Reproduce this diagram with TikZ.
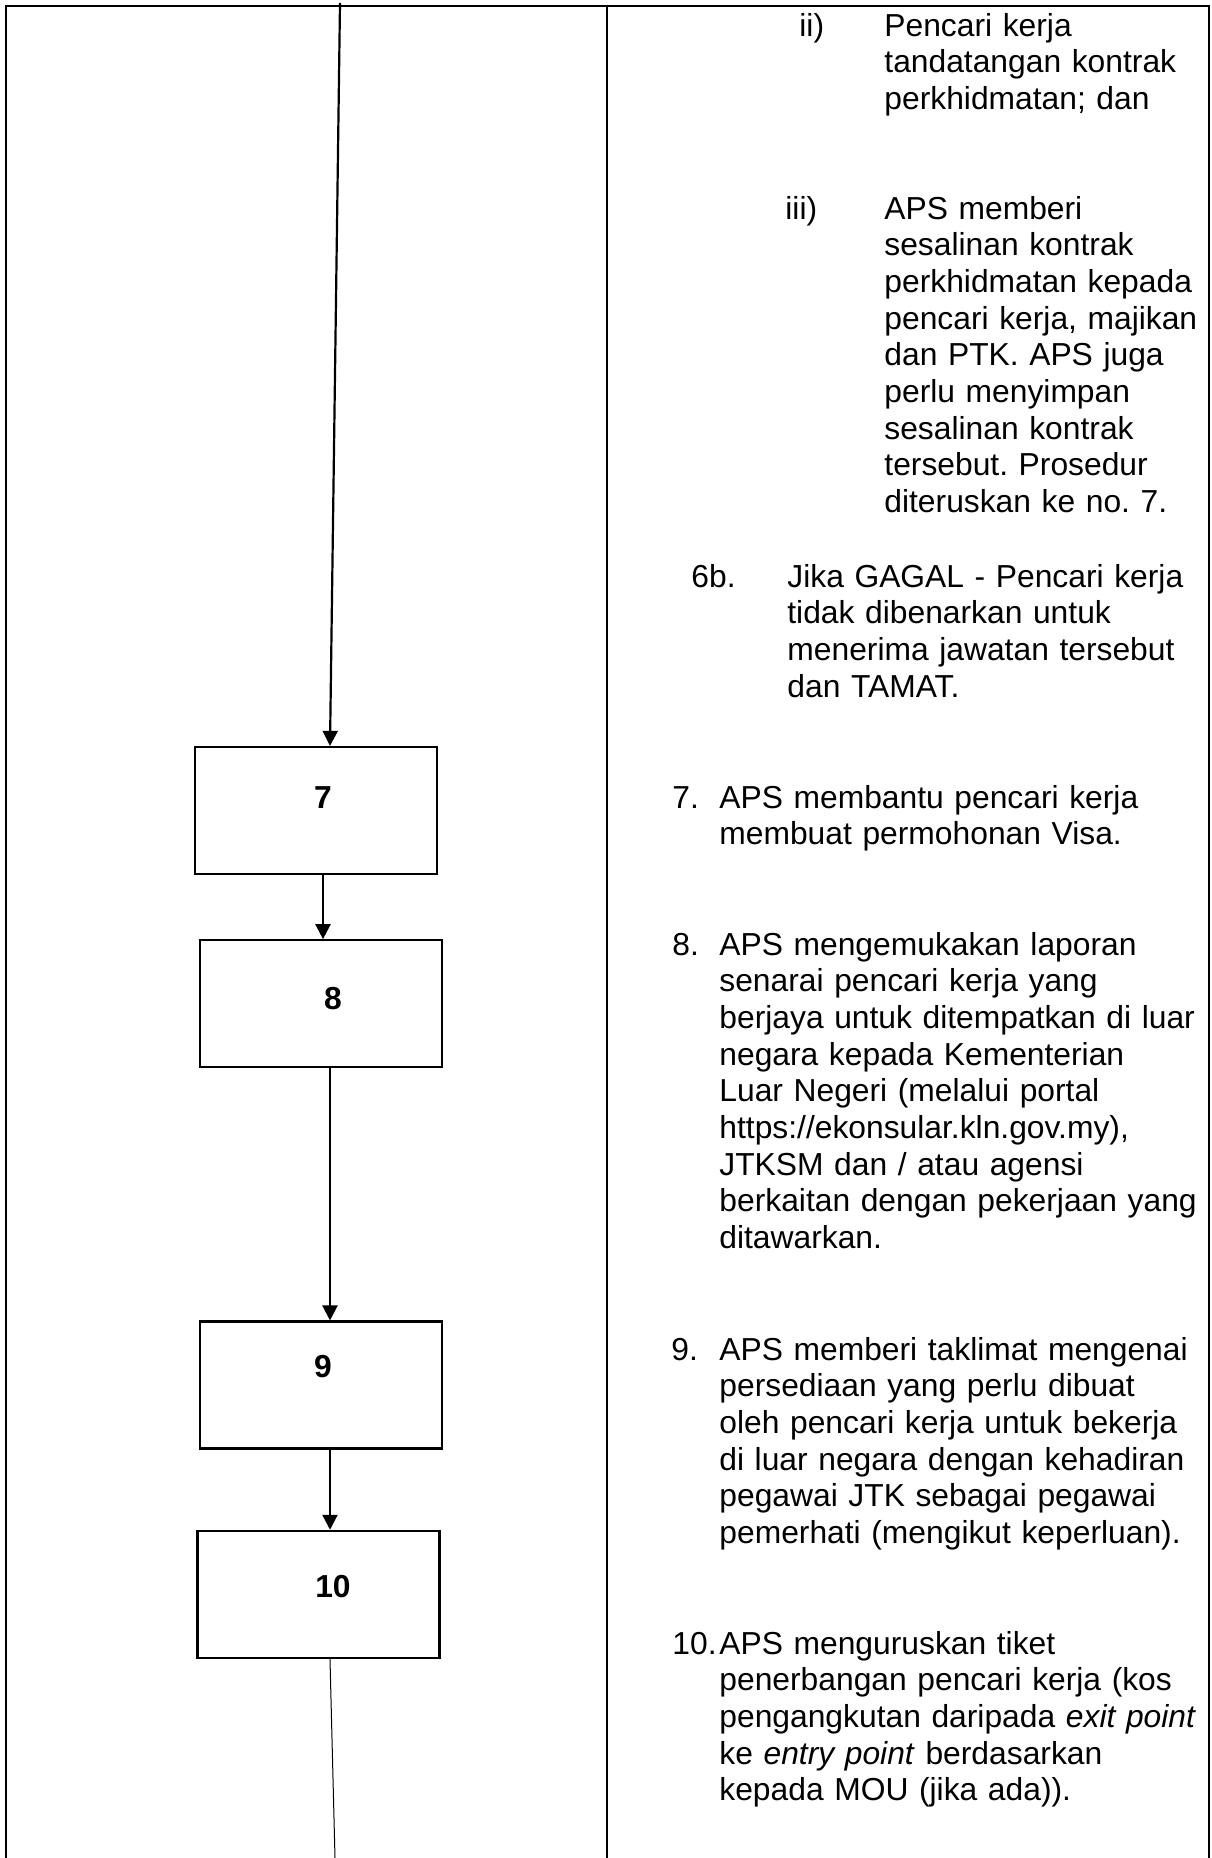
\documentclass[tikz,border=0pt]{standalone}
\usepackage{fontspec}
\setmainfont{Liberation Sans}
\usetikzlibrary{positioning,arrows.meta,calc}
\frenchspacing

\begin{document}
\begin{tikzpicture}[x=0.5pt, y=-0.5pt, node distance=32pt,
  every node/.style={font=\fontsize{15.9pt}{18.35pt}\selectfont},
  frame/.style={line width=1.4pt},
  stepbox/.style={rectangle, draw, line width=1.15pt, minimum width=121pt, minimum height=63.5pt, inner sep=0pt},
  stepno/.style={anchor=base, inner sep=0pt, font=\fontsize{15.9pt}{18.35pt}\selectfont\bfseries},
  flow/.style={-{Triangle[length=7.5pt,width=7.5pt]}, line width=1.1pt},
  itemno/.style={anchor=base west, inner sep=0pt},
  itemtxt/.style={anchor=base west, inner sep=0pt, text width=250pt, align=left}]
\useasboundingbox (0,0) rectangle (1211,1858);

% table frame
\draw[frame] (6,1858) -- (6,6) -- (1209,6) -- (1209,1858);
\draw[frame] (607,6) -- (607,1858);

% flow chart
\node[stepbox] (box7) at (316,810.5) {};
\node[stepbox, below=32pt of box7, xshift=2.5pt] (box8) {};
\node[stepbox, below=126pt of box8] (box9) {};
\node[stepbox, below=40pt of box9, xshift=-1.25pt] (box10) {};
\node[stepno] (no7) at (323,808) {7};
\node[stepno] (no8) at (333,1009) {8};
\node[stepno] (no9) at (323,1377) {9};
\node[stepno] (no10) at (333,1597) {10};

\coordinate (top) at (340,3);
\coordinate (bot) at (335,1858);
\draw[flow] (top) -- ([xshift=7pt]box7.north);
\draw[flow] ([xshift=3.5pt]box7.south) -- ([xshift=1pt]box8.north);
\draw[flow] ([xshift=4.5pt]box8.south) -- ([xshift=4.5pt]box9.north);
\draw[flow] ([xshift=4.5pt]box9.south) -- ([xshift=5.75pt]box10.north);
\draw[line width=0.5pt] ([xshift=5.75pt]box10.south) -- (bot);

% steps
\node[itemno] (n6ii) at (799,36) {ii)};
\node[itemtxt] (t6ii) at (884,36) {Pencari kerja\\ tandatangan kontrak\\ perkhidmatan; dan};
\node[itemno] (n6iii) at (785,219) {iii)};
\node[itemtxt] (t6iii) at (884,219) {APS memberi\\ sesalinan kontrak\\ perkhidmatan kepada\\ pencari kerja, majikan\\ dan PTK. APS juga\\ perlu menyimpan\\ sesalinan kontrak\\ tersebut. Prosedur\\ diteruskan ke no. 7.};
\node[itemno] (n6b) at (691,587) {6b.};
\node[itemtxt] (t6b) at (787,587) {Jika GAGAL - Pencari kerja\\ tidak dibenarkan untuk\\ menerima jawatan tersebut\\ dan TAMAT.};
\node[itemno] (n7) at (672,808) {7.};
\node[itemtxt] (t7) at (719,808) {APS membantu pencari kerja\\ membuat permohonan Visa.};
\node[itemno] (n8) at (672,955) {8.};
\node[itemtxt] (t8) at (719,955) {APS mengemukakan laporan\\ senarai pencari kerja yang\\ berjaya untuk ditempatkan di luar\\ negara kepada Kementerian\\ Luar Negeri (melalui portal\\ https://ekonsular.kln.gov.my),\\ JTKSM dan / atau agensi\\ berkaitan dengan pekerjaan yang\\ ditawarkan.};
\node[itemno] (n9) at (671,1360) {9.};
\node[itemtxt] (t9) at (719,1360) {APS memberi taklimat mengenai\\ persediaan yang perlu dibuat\\ oleh pencari kerja untuk bekerja\\ di luar negara dengan kehadiran\\ pegawai JTK sebagai pegawai\\ pemerhati (mengikut keperluan).};
\node[itemno] (n10) at (672,1654) {10.};
\node[itemtxt] (t10) at (719,1654) {APS menguruskan tiket\\ penerbangan pencari kerja (kos\\ pengangkutan daripada \textit{exit point}\\ ke \textit{entry point} berdasarkan\\ kepada MOU (jika ada)).};
\end{tikzpicture}
\end{document}
